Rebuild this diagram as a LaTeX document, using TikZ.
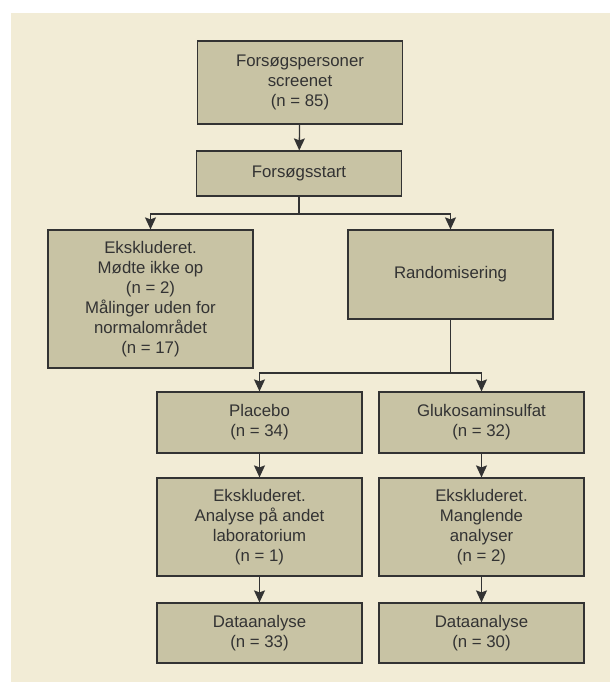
\documentclass[tikz,border=0pt]{standalone}
\usepackage{fontspec}
\setmainfont{Liberation Sans}
\usepackage{tikz}
\usetikzlibrary{arrows.meta}

\definecolor{bgcol}{HTML}{F2ECD6}
\definecolor{boxcol}{HTML}{C8C3A4}
\definecolor{inkcol}{HTML}{333333}

\begin{document}
\begin{tikzpicture}[x=1pt, y=-1pt,
    box/.style={draw=inkcol, fill=boxcol, line width=1.2pt, inner sep=0pt,
      align=center, text=inkcol, minimum width=205pt,
      font=\fontsize{16.8}{20}\selectfont},
    link/.style={draw=inkcol, line width=1.3pt},
    arr/.style={inkcol, line width=1.3pt, -{Stealth[length=12pt, width=11pt, inset=2pt]}},
    elbow/.style={to path={-| (\tikztotarget)}}]
    \useasboundingbox (0,0) rectangle (610,682);
    \fill[bgcol] (11,13) rectangle (610,682);

    \node[box, minimum height=83pt] (screen) at (300,82.5)
      {Forsøgspersoner\\screenet\\(n = 85)};
    \node[box, minimum height=45pt] (start) at (299,173.5) {Forsøgsstart};
    \node[box, minimum height=138pt] (excl) at (150.5,299)
      {Ekskluderet.\\Mødte ikke op\\(n = 2)\\Målinger uden for\\normalområdet\\(n = 17)};
    \node[box, minimum height=89pt] (rand) at (450.5,274.5) {Randomisering};
    \node[box, minimum height=61pt] (placebo) at (259.5,422.5) {Placebo\\(n = 34)};
    \node[box, minimum height=61pt] (gluko) at (481.5,422.5) {Glukosaminsulfat\\(n = 32)};
    \node[box, minimum height=98pt] (exclP) at (259.5,527)
      {Ekskluderet.\\Analyse på andet\\laboratorium\\(n = 1)};
    \node[box, minimum height=98pt] (exclG) at (481.5,527)
      {Ekskluderet.\\Manglende\\analyser\\(n = 2)};
    \node[box, minimum height=60pt] (dataP) at (259.5,633) {Dataanalyse\\(n = 33)};
    \node[box, minimum height=60pt] (dataG) at (481.5,633) {Dataanalyse\\(n = 30)};

    \coordinate (split1) at (299,214);
    \coordinate (split2) at (450.5,373);

    \path[link] (start) -- (split1)
                (rand) -- (split2);
    \path[arr]
      (screen) edge (start)
      (split1) edge[elbow] (excl)
               edge[elbow] (rand)
      (split2) edge[elbow] (placebo)
               edge[elbow] (gluko)
      (placebo) edge (exclP)
      (gluko) edge (exclG)
      (exclP) edge (dataP)
      (exclG) edge (dataG);
\end{tikzpicture}
\end{document}
